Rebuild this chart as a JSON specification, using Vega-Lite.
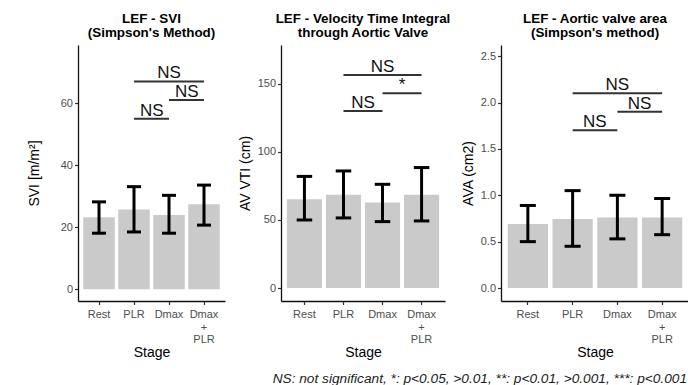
{
  "$schema": "https://vega.github.io/schema/vega-lite/v6.json",
  "padding": {"left": 27, "top": 12, "right": 0, "bottom": 0},
  "background": "white",
  "config": {
    "font": "Liberation Sans",
    "view": {"stroke": null},
    "scale": {"bandPaddingInner": 0.1, "bandPaddingOuter": 0.15},
    "axis": {
      "grid": false,
      "domainColor": "#111111",
      "domainWidth": 1.3,
      "tickColor": "#333333",
      "tickWidth": 1.2,
      "tickSize": 3.5,
      "labelColor": "#4d4d4d",
      "labelFont": "Liberation Sans",
      "labelFontSize": 11,
      "labelPadding": 2,
      "titleFont": "Liberation Sans",
      "titleFontSize": 14,
      "titleFontWeight": "normal",
      "titleColor": "#000000"
    },
    "axisX": {"labelAngle": 0, "labelBaseline": "top", "labelLineHeight": 12.5, "labelPadding": 4, "titlePadding": 1},
    "axisY": {"titlePadding": 5},
    "title": {"font": "Liberation Sans", "fontSize": 13.4, "fontWeight": "bold", "anchor": "middle", "lineHeight": 13.5, "offset": 6, "color": "#000000"}
  },
  "datasets": {
    "svi": [
      {"stage": "Rest", "mean": 23.2, "lo": 18.1, "hi": 28.2},
      {"stage": "PLR", "mean": 25.7, "lo": 18.5, "hi": 33.1},
      {"stage": "Dmax", "mean": 24.0, "lo": 18.1, "hi": 30.3},
      {"stage": "Dmax + PLR", "mean": 27.4, "lo": 20.7, "hi": 33.6}
    ],
    "vti": [
      {"stage": "Rest", "mean": 65.2, "lo": 50.0, "hi": 82.0},
      {"stage": "PLR", "mean": 68.5, "lo": 51.5, "hi": 86.0},
      {"stage": "Dmax", "mean": 62.8, "lo": 48.8, "hi": 76.2},
      {"stage": "Dmax + PLR", "mean": 68.5, "lo": 49.3, "hi": 88.5}
    ],
    "ava": [
      {"stage": "Rest", "mean": 0.69, "lo": 0.5, "hi": 0.89},
      {"stage": "PLR", "mean": 0.745, "lo": 0.45, "hi": 1.05},
      {"stage": "Dmax", "mean": 0.76, "lo": 0.53, "hi": 1.0},
      {"stage": "Dmax + PLR", "mean": 0.76, "lo": 0.575, "hi": 0.965}
    ],
    "svi_sig": [
      {"from": "PLR", "to": "Dmax", "y": 55, "label": "NS"},
      {"from": "Dmax", "to": "Dmax + PLR", "y": 61, "label": "NS"},
      {"from": "PLR", "to": "Dmax + PLR", "y": 67, "label": "NS"}
    ],
    "vti_sig": [
      {"from": "PLR", "to": "Dmax", "y": 130, "label": "NS"},
      {"from": "Dmax", "to": "Dmax + PLR", "y": 143, "label": "*"},
      {"from": "PLR", "to": "Dmax + PLR", "y": 156.4, "label": "NS"}
    ],
    "ava_sig": [
      {"from": "PLR", "to": "Dmax", "y": 1.7, "label": "NS"},
      {"from": "Dmax", "to": "Dmax + PLR", "y": 1.9, "label": "NS"},
      {"from": "PLR", "to": "Dmax + PLR", "y": 2.1, "label": "NS"}
    ]
  },
  "bounds": "flush",
  "spacing": 56,
  "title": {
    "text": "NS: not significant, *: p<0.05, >0.01, **: p<0.01, >0.001, ***: p<0.001",
    "orient": "bottom",
    "anchor": "end",
    "fontStyle": "italic",
    "fontWeight": "normal",
    "fontSize": 13.7,
    "offset": 12,
    "dx": -2,
    "color": "#1a1a1a"
  },
  "hconcat": [
    {
      "width": 147,
      "height": 256,
      "title": {"text": ["LEF - SVI", "(Simpson's Method)"]},
      "layer": [
        {
          "data": {"name": "svi"},
          "mark": {"type": "bar", "color": "#cacaca"},
          "encoding": {
            "x": {"field": "stage", "type": "nominal", "title": "Stage",
                  "scale": {"domain": ["Rest", "PLR", "Dmax", "Dmax + PLR"]},
                  "axis": {"labelExpr": "datum.label == 'Dmax + PLR' ? ['Dmax', '+', 'PLR'] : datum.label"}},
            "y": {"field": "mean", "type": "quantitative", "title": "SVI [m/m²]",
                  "scale": {"domain": [-3.75, 78.75], "nice": false, "zero": false},
                  "axis": {"values": [0, 20, 40, 60], "titlePadding": 19}},
            "y2": {"datum": 0}
          }
        },
        {
          "data": {"name": "svi"},
          "mark": {"type": "rule", "color": "#000000", "strokeWidth": 3},
          "encoding": {
            "x": {"field": "stage", "type": "nominal", "title": "Stage"},
            "y": {"field": "lo", "type": "quantitative", "title": "SVI [m/m²]"},
            "y2": {"field": "hi"}
          }
        },
        {
          "data": {"name": "svi"},
          "mark": {"type": "tick", "color": "#000000", "orient": "horizontal", "size": 14, "thickness": 3, "opacity": 1},
          "encoding": {
            "x": {"field": "stage", "type": "nominal", "title": "Stage"},
            "y": {"field": "lo", "type": "quantitative", "title": "SVI [m/m²]"}
          }
        },
        {
          "data": {"name": "svi"},
          "mark": {"type": "tick", "color": "#000000", "orient": "horizontal", "size": 14, "thickness": 3, "opacity": 1},
          "encoding": {
            "x": {"field": "stage", "type": "nominal", "title": "Stage"},
            "y": {"field": "hi", "type": "quantitative", "title": "SVI [m/m²]"}
          }
        },
        {
          "data": {"name": "svi_sig"},
          "mark": {"type": "rule", "color": "#333333", "strokeWidth": 2},
          "encoding": {
            "x": {"field": "from", "type": "nominal", "title": "Stage"},
            "x2": {"field": "to"},
            "y": {"field": "y", "type": "quantitative", "title": "SVI [m/m²]"}
          }
        },
        {
          "data": {"name": "svi_sig"},
          "transform": [{"filter": "datum.from != 'PLR' || datum.to != 'Dmax + PLR'"}],
          "mark": {"type": "text", "fontSize": 17, "baseline": "alphabetic", "dy": -3, "dx": 2, "color": "#111111"},
          "encoding": {
            "x": {"field": "from", "type": "nominal", "bandPosition": 1, "title": "Stage"},
            "y": {"field": "y", "type": "quantitative", "title": "SVI [m/m²]"},
            "text": {"field": "label"}
          }
        },
        {
          "data": {"name": "svi_sig"},
          "transform": [{"filter": "datum.from == 'PLR' && datum.to == 'Dmax + PLR'"}],
          "mark": {"type": "text", "fontSize": 17, "baseline": "alphabetic", "dy": -3, "color": "#111111"},
          "encoding": {
            "x": {"datum": "Dmax", "type": "nominal", "title": "Stage"},
            "y": {"field": "y", "type": "quantitative", "title": "SVI [m/m²]"},
            "text": {"field": "label"}
          }
        }
      ]
    },
    {
      "width": 164,
      "height": 256,
      "title": {"text": ["LEF - Velocity Time Integral", "through Aortic Valve"]},
      "layer": [
        {
          "data": {"name": "vti"},
          "mark": {"type": "bar", "color": "#cacaca"},
          "encoding": {
            "x": {"field": "stage", "type": "nominal", "title": "Stage",
                  "scale": {"domain": ["Rest", "PLR", "Dmax", "Dmax + PLR"]},
                  "axis": {"labelExpr": "datum.label == 'Dmax + PLR' ? ['Dmax', '+', 'PLR'] : datum.label"}},
            "y": {"field": "mean", "type": "quantitative", "title": "AV VTI (cm)",
                  "scale": {"domain": [-9.5, 178.5], "nice": false, "zero": false},
                  "axis": {"values": [0, 50, 100, 150]}},
            "y2": {"datum": 0}
          }
        },
        {
          "data": {"name": "vti"},
          "mark": {"type": "rule", "color": "#000000", "strokeWidth": 3},
          "encoding": {
            "x": {"field": "stage", "type": "nominal", "title": "Stage"},
            "y": {"field": "lo", "type": "quantitative", "title": "AV VTI (cm)"},
            "y2": {"field": "hi"}
          }
        },
        {
          "data": {"name": "vti"},
          "mark": {"type": "tick", "color": "#000000", "orient": "horizontal", "size": 15.5, "thickness": 3, "opacity": 1},
          "encoding": {
            "x": {"field": "stage", "type": "nominal", "title": "Stage"},
            "y": {"field": "lo", "type": "quantitative", "title": "AV VTI (cm)"}
          }
        },
        {
          "data": {"name": "vti"},
          "mark": {"type": "tick", "color": "#000000", "orient": "horizontal", "size": 15.5, "thickness": 3, "opacity": 1},
          "encoding": {
            "x": {"field": "stage", "type": "nominal", "title": "Stage"},
            "y": {"field": "hi", "type": "quantitative", "title": "AV VTI (cm)"}
          }
        },
        {
          "data": {"name": "vti_sig"},
          "mark": {"type": "rule", "color": "#333333", "strokeWidth": 2},
          "encoding": {
            "x": {"field": "from", "type": "nominal", "title": "Stage"},
            "x2": {"field": "to"},
            "y": {"field": "y", "type": "quantitative", "title": "AV VTI (cm)"}
          }
        },
        {
          "data": {"name": "vti_sig"},
          "transform": [{"filter": "datum.from != 'PLR' || datum.to != 'Dmax + PLR'"}],
          "mark": {"type": "text", "fontSize": 17, "baseline": "alphabetic", "dy": -3, "dx": 2, "color": "#111111"},
          "encoding": {
            "x": {"field": "from", "type": "nominal", "bandPosition": 1, "title": "Stage"},
            "y": {"field": "y", "type": "quantitative", "title": "AV VTI (cm)"},
            "text": {"field": "label"}
          }
        },
        {
          "data": {"name": "vti_sig"},
          "transform": [{"filter": "datum.from == 'PLR' && datum.to == 'Dmax + PLR'"}],
          "mark": {"type": "text", "fontSize": 17, "baseline": "alphabetic", "dy": -3, "color": "#111111"},
          "encoding": {
            "x": {"datum": "Dmax", "type": "nominal", "title": "Stage"},
            "y": {"field": "y", "type": "quantitative", "title": "AV VTI (cm)"},
            "text": {"field": "label"}
          }
        }
      ]
    },
    {
      "width": 188,
      "height": 256,
      "title": {"text": ["LEF - Aortic valve area", "(Simpson's method)"]},
      "layer": [
        {
          "data": {"name": "ava"},
          "mark": {"type": "bar", "color": "#cacaca"},
          "encoding": {
            "x": {"field": "stage", "type": "nominal", "title": "Stage",
                  "scale": {"domain": ["Rest", "PLR", "Dmax", "Dmax + PLR"]},
                  "axis": {"labelExpr": "datum.label == 'Dmax + PLR' ? ['Dmax', '+', 'PLR'] : datum.label"}},
            "y": {"field": "mean", "type": "quantitative", "title": "AVA (cm2)",
                  "scale": {"domain": [-0.14, 2.62], "nice": false, "zero": false},
                  "axis": {"values": [0, 0.5, 1, 1.5, 2, 2.5], "format": ".1f"}},
            "y2": {"datum": 0}
          }
        },
        {
          "data": {"name": "ava"},
          "mark": {"type": "rule", "color": "#000000", "strokeWidth": 3},
          "encoding": {
            "x": {"field": "stage", "type": "nominal", "title": "Stage"},
            "y": {"field": "lo", "type": "quantitative", "title": "AVA (cm2)"},
            "y2": {"field": "hi"}
          }
        },
        {
          "data": {"name": "ava"},
          "mark": {"type": "tick", "color": "#000000", "orient": "horizontal", "size": 16, "thickness": 3, "opacity": 1},
          "encoding": {
            "x": {"field": "stage", "type": "nominal", "title": "Stage"},
            "y": {"field": "lo", "type": "quantitative", "title": "AVA (cm2)"}
          }
        },
        {
          "data": {"name": "ava"},
          "mark": {"type": "tick", "color": "#000000", "orient": "horizontal", "size": 16, "thickness": 3, "opacity": 1},
          "encoding": {
            "x": {"field": "stage", "type": "nominal", "title": "Stage"},
            "y": {"field": "hi", "type": "quantitative", "title": "AVA (cm2)"}
          }
        },
        {
          "data": {"name": "ava_sig"},
          "mark": {"type": "rule", "color": "#333333", "strokeWidth": 2},
          "encoding": {
            "x": {"field": "from", "type": "nominal", "title": "Stage"},
            "x2": {"field": "to"},
            "y": {"field": "y", "type": "quantitative", "title": "AVA (cm2)"}
          }
        },
        {
          "data": {"name": "ava_sig"},
          "transform": [{"filter": "datum.from != 'PLR' || datum.to != 'Dmax + PLR'"}],
          "mark": {"type": "text", "fontSize": 17, "baseline": "alphabetic", "dy": -3, "dx": 2, "color": "#111111"},
          "encoding": {
            "x": {"field": "from", "type": "nominal", "bandPosition": 1, "title": "Stage"},
            "y": {"field": "y", "type": "quantitative", "title": "AVA (cm2)"},
            "text": {"field": "label"}
          }
        },
        {
          "data": {"name": "ava_sig"},
          "transform": [{"filter": "datum.from == 'PLR' && datum.to == 'Dmax + PLR'"}],
          "mark": {"type": "text", "fontSize": 17, "baseline": "alphabetic", "dy": -3, "color": "#111111"},
          "encoding": {
            "x": {"datum": "Dmax", "type": "nominal", "title": "Stage"},
            "y": {"field": "y", "type": "quantitative", "title": "AVA (cm2)"},
            "text": {"field": "label"}
          }
        }
      ]
    }
  ]
}
